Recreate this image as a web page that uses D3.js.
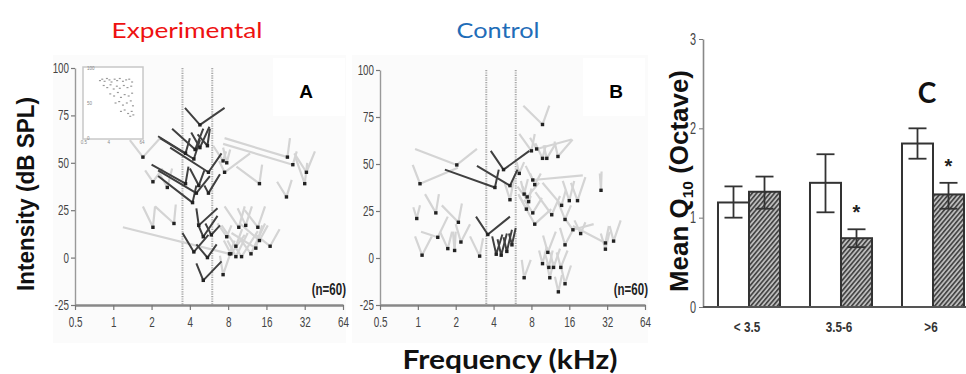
<!DOCTYPE html>
<html>
<head>
<meta charset="utf-8">
<script src="https://cdn.jsdelivr.net/npm/d3@7"></script>
<style>
  body { margin: 0; background: #fff; }
  svg { display: block; }
</style>
</head>
<body>
<svg id="fig" width="966" height="374"></svg>
<script>
// ---- data ----
const freqTicks = [0.5, 1, 2, 4, 8, 16, 32, 64];
const dbTicks = [-25, 0, 25, 50, 75, 100];
const bandEdges = [3.5, 6];

// tuning curves: [CF kHz, threshold dB, low-side kHz, low-side dB, high-side kHz, high-side dB, dark]
const curvesA = [
  [4.8, 70, 3.66, 79, 7.5, 79, 1],
  [4.4, 57, 2.9, 68, 5.1, 68, 1],
  [4.8, 58, 4.1, 66, 5.7, 69, 1],
  [3.7, 55, 2.25, 64, 4.0, 63, 1],
  [4.3, 52, 2.33, 63, 4.8, 62, 1],
  [5.5, 59, 4.6, 65, 5.75, 68, 1],
  [5.6, 45, 2.8, 58, 7.1, 55, 1],
  [3.7, 39, 2.0, 49, 3.9, 48, 1],
  [4.7, 38, 4.0, 47, 5.2, 46, 1],
  [4.5, 34, 2.25, 46, 5.75, 43, 1],
  [5.6, 34, 5.2, 38, 6.9, 44, 1],
  [4.2, 29, 2.25, 43, 4.5, 38, 1],
  [4.7, 17, 4.5, 26, 6.6, 26, 1],
  [5.1, 11, 4.6, 18, 6.6, 22, 1],
  [5.9, 12, 5.3, 18, 6.9, 17, 1],
  [4.3, 3, 3.5, 13, 5.6, 12, 1],
  [5.5, 0, 4.5, 7, 6.5, 7, 1],
  [5.1, -12, 4.5, -3, 7.1, -2, 1],
  [1.71, 53, 1.35, 62, 2.33, 63, 0],
  [2.05, 40, 1.78, 46, 2.45, 47, 0],
  [2.66, 37, 2.33, 44, 2.9, 47, 0],
  [2.05, 16, 1.71, 27, 2.13, 27, 0],
  [3.0, 18, 2.13, 27, 3.1, 28, 0],
  [8.2, 2, 1.19, 16, 9.0, 9, 0],
  [7.3, 51, 6.1, 59, 7.7, 56, 0],
  [7.8, 50, 7.3, 58, 8.3, 57, 0],
  [7.5, 45, 6.8, 51, 11.9, 55, 0],
  [14.1, 39, 9.3, 48, 14.8, 49, 0],
  [23.4, 53, 7.5, 63, 24.5, 63, 0],
  [25.8, 49, 7.3, 60, 27.7, 56, 0],
  [33, 45, 26.5, 55, 38.5, 56, 0],
  [32, 39, 27, 53, 33.5, 50, 0],
  [23, 32, 19.4, 40, 25.3, 41, 0],
  [9.7, 16, 7.5, 27, 10.8, 27, 0],
  [11.0, 17, 9.5, 26, 12.3, 27, 0],
  [13.7, 16, 10.8, 25, 15.6, 27, 0],
  [14.1, 9, 9.9, 18, 16.4, 17, 0],
  [13.2, 5, 8.5, 13, 14.8, 17, 0],
  [17.1, 6, 13.2, 12, 20.3, 15, 0],
  [9.2, 6, 7.1, 17, 10.3, 15, 0],
  [7.8, 11, 6.6, 18, 8.5, 17, 0],
  [8.4, 2, 7.4, 9, 10.8, 12, 0],
  [9.2, 0.5, 7.9, 9, 11.4, 13, 0],
  [10.2, 0.5, 9.0, 6, 13.7, 14, 0],
  [12.1, 2, 9.9, 10, 15.6, 18, 0],
  [7.3, -9, 6.9, 1, 8.5, 4, 0]
];

const curvesB = [
  [2.04, 49.5, 0.95, 58, 2.95, 58, 0],
  [1.04, 39.5, 0.91, 49.5, 2.08, 48, 0],
  [0.98, 21, 0.92, 27, 1.04, 28, 0],
  [1.39, 24, 1.14, 34, 1.47, 34, 0],
  [1.44, 11, 1.06, 14, 1.73, 22, 0],
  [1.08, 1.5, 0.95, 11.5, 1.29, 11.5, 0],
  [1.73, 5, 1.5, 14, 1.87, 14, 0],
  [1.96, 4, 1.9, 14, 2.0, 14, 0],
  [2.1, 19, 1.55, 28, 2.24, 29, 0],
  [2.2, 8.5, 2.0, 18, 2.6, 18, 0],
  [3.1, 1, 2.6, 11.5, 3.3, 10.5, 0],
  [8.0, 57, 6.4, 66, 8.5, 66, 0],
  [8.8, 58, 7.8, 64, 16.7, 63, 0],
  [9.8, 71, 6.9, 81, 11.1, 81, 0],
  [9.8, 53, 8.6, 61, 10.4, 60, 0],
  [10.6, 53, 10.0, 60, 12.5, 61, 0],
  [13.0, 54, 12.2, 62, 17.0, 63, 0],
  [6.4, 45, 6.1, 51, 7.0, 51, 0],
  [8.2, 41.5, 7.2, 49, 20.5, 44, 0],
  [8.5, 39, 7.8, 45, 9.5, 45, 0],
  [7.0, 34, 6.6, 41, 7.5, 42, 0],
  [7.4, 32.5, 6.8, 38, 9.2, 40, 0],
  [7.6, 30, 6.2, 38, 8.0, 37, 0],
  [7.3, 26, 6.3, 34, 7.9, 33, 0],
  [8.2, 24, 7.0, 31, 9.7, 32, 0],
  [8.5, 18, 6.4, 33, 11.5, 26, 0],
  [11.6, 23, 8.6, 35, 13.5, 33, 0],
  [13.9, 28, 9.8, 40, 15.0, 36, 0],
  [16.0, 30.5, 14.2, 41, 17.5, 41, 0],
  [18.6, 30.5, 16.5, 40, 21.5, 43, 0],
  [14.8, 20.5, 13.0, 30, 16.5, 28, 0],
  [17.1, 15, 14.8, 21, 25, 18, 0],
  [19.7, 13, 17.6, 20, 21.5, 19, 0],
  [31, 8, 17.1, 17, 33, 17, 0],
  [31, 4.7, 28.5, 13, 33.5, 14, 0],
  [36, 9, 33.5, 17, 41, 20, 0],
  [28.6, 36, 28.0, 45, 28.9, 46, 0],
  [14.8, 7, 13.5, 16, 16.8, 14, 0],
  [10.8, 3, 9.9, 12, 12.5, 14, 0],
  [9.8, -3, 9.2, 4, 10.6, 6, 0],
  [11.0, -5, 10.2, 3, 11.8, 4, 0],
  [12.0, -5, 11.3, 3, 13.5, 5, 0],
  [13.7, -5, 12.7, 3, 15.5, 4, 0],
  [11.2, -10.5, 10.6, -3, 12.0, -2, 0],
  [14.8, -13.7, 13.8, -5, 16.5, -4, 0],
  [13.1, -18, 12.3, -10, 14.0, -9, 0],
  [7.0, -10.5, 6.7, -1, 7.9, -1, 0],
  [5.4, 31, 4.9, 40, 5.9, 44, 0],
  [3.6, 12.5, 2.9, 22, 5.4, 22, 1],
  [4.2, 2, 3.9, 11.5, 4.7, 12.5, 1],
  [4.6, 1.5, 4.3, 10, 5.1, 13, 1],
  [5.1, 3.5, 4.8, 11, 5.6, 15, 1],
  [5.6, 7, 5.3, 13, 6.0, 16, 1],
  [4.8, 47, 3.8, 57, 7.7, 57, 1],
  [5.4, 38.5, 2.95, 49, 6.2, 47, 1],
  [4.1, 37.5, 1.64, 47, 4.4, 47, 1]
];

// inset of panel A: [kHz, dB]
const insetPts = [
  [1.9, 82], [2.3, 84], [2.8, 81], [3.4, 85], [4.2, 83], [5, 80], [6.5, 84], [8, 82], [10, 85], [13, 81],
  [17, 83], [22, 84], [28, 80], [2.6, 75], [3.5, 72], [4.6, 76], [6, 70], [7.8, 74], [10, 71], [14, 75],
  [19, 72], [26, 74], [4.5, 63], [6.2, 60], [8.5, 65], [11, 58], [15, 62], [21, 60], [28, 64], [7, 50],
  [9.5, 52], [13, 47], [18, 50], [25, 53], [30, 46], [11, 38], [15, 40], [20, 35], [27, 38], [31, 33], [24, 31]
];
const insetYTicks = [0, 50, 100];
const insetXTicks = [0.5, 4, 64];

// panel C
const groups = ["< 3.5", "3.5-6", ">6"];
const q10Open = [1.17, 1.39, 1.83];
const q10OpenLo = [1.0, 1.06, 1.66];
const q10OpenHi = [1.35, 1.71, 2.0];
const q10Hatch = [1.29, 0.77, 1.26];
const q10HatchLo = [1.1, 0.67, 1.1];
const q10HatchHi = [1.46, 0.87, 1.39];
const signif = [false, true, true];
const q10Ticks = [0, 1, 2, 3];

// ---- drawing ----
const svg = d3.select("#fig");
const narrow = '"Liberation Sans",Arial,sans-serif';
const arial = '"Liberation Sans",Arial,sans-serif';
const calibri = 'Lato,"Open Sans",sans-serif';

// squeeze axis labels to look like a condensed face
function condense(sel, k) {
  sel.each(function () {
    const t = d3.select(this);
    const x = +t.attr("x") || 0;
    t.attr("x", x / k).attr("transform", `scale(${k},1)`);
  });
}

svg.append("rect").attr("width", 966).attr("height", 374).attr("fill", "#fff");

const defs = svg.append("defs");
const pat = defs.append("pattern").attr("id", "hatch")
  .attr("patternUnits", "userSpaceOnUse").attr("width", 3.4).attr("height", 3.4)
  .attr("patternTransform", "rotate(40)");
pat.append("rect").attr("width", 3.4).attr("height", 3.4).attr("fill", "#bcbcbc");
pat.append("line").attr("x1", 0.8).attr("y1", 0).attr("x2", 0.8).attr("y2", 3.4)
  .attr("stroke", "#2e2e2e").attr("stroke-width", 1.4);

function tuningPanel(curves, xr, yr, bg, box) {
  const x = d3.scaleLog().base(2).domain([0.5, 64]).range(xr);
  const y = d3.scaleLinear().domain([-25, 100]).range(yr);
  const g = svg.append("g");

  g.append("rect").attr("x", bg[0]).attr("y", bg[1]).attr("width", bg[2]).attr("height", bg[3]).attr("fill", "#fbfbfb");
  g.append("rect").attr("x", box[0]).attr("y", box[1]).attr("width", box[2]).attr("height", box[3]).attr("fill", "#fff");

  // band limits
  g.selectAll("line.band").data(bandEdges).join("line")
    .attr("x1", d => x(d)).attr("x2", d => x(d))
    .attr("y1", y(100)).attr("y2", y(-25))
    .attr("stroke", "#a8a8a8").attr("stroke-width", 2).attr("stroke-dasharray", "1.2,1.2");

  const light = curves.filter(c => !c[6]);
  const dark = curves.filter(c => c[6]);
  const line = c => `M${x(c[2])},${y(c[3])}L${x(c[0])},${y(c[1])}L${x(c[4])},${y(c[5])}`;

  g.selectAll("path.light").data(light).join("path")
    .attr("d", line).attr("fill", "none")
    .attr("stroke", "#d4d4d4").attr("stroke-width", 2.2).attr("stroke-linejoin", "round");
  g.selectAll("path.dark").data(dark).join("path")
    .attr("d", line).attr("fill", "none")
    .attr("stroke", "#404040").attr("stroke-width", 2).attr("stroke-linejoin", "round");
  g.selectAll("rect.tip").data(curves).join("rect")
    .attr("x", c => x(c[0]) - 1.7).attr("y", c => y(c[1]) - 1.7)
    .attr("width", 3.4).attr("height", 3.4).attr("fill", "#222");

  // axes
  const ya = g.append("g").attr("transform", `translate(${xr[0]},0)`)
    .call(d3.axisLeft(y).tickValues(dbTicks).tickSize(4).tickSizeOuter(0).tickPadding(2).tickFormat(d => String(d)));
  ya.select(".domain").attr("stroke", "#999").attr("stroke-width", 1.4);
  ya.selectAll(".tick line").attr("stroke", "#777").attr("stroke-width", 1.2);
  ya.selectAll(".tick text").attr("font-family", narrow).attr("font-size", 14).attr("fill", "#444")
    .call(condense, 0.7);

  const xa = g.append("g").attr("transform", `translate(0,${yr[0]})`)
    .call(d3.axisBottom(x).tickValues(freqTicks).tickSize(5).tickSizeOuter(0).tickPadding(6).tickFormat(d => String(d)));
  xa.select(".domain").attr("stroke", "#888").attr("stroke-width", 2.6);
  xa.selectAll(".tick line").attr("stroke", "#777").attr("stroke-width", 1.2);
  xa.selectAll(".tick text").attr("font-family", narrow).attr("font-size", 15).attr("fill", "#444")
    .call(condense, 0.66);

  g.append("text").attr("x", (xr[1] + 3) / 0.72).attr("y", 295).attr("text-anchor", "end")
    .attr("transform", "scale(0.72,1)")
    .attr("font-family", arial).attr("font-weight", "bold").attr("font-size", 16).attr("fill", "#222")
    .text("(n=60)");
  return { g, x, y };
}

const A = tuningPanel(curvesA, [75, 343], [305, 68], [53, 55, 293, 288], [273, 58, 72, 58]);
const B = tuningPanel(curvesB, [380, 645], [305, 70], [352, 55, 296, 288], [583, 58, 62, 58]);

// panel letters
A.g.append("text").attr("x", 306).attr("y", 98).attr("text-anchor", "middle")
  .attr("font-family", arial).attr("font-weight", 900).attr("font-size", 19).text("A");
B.g.append("text").attr("x", 616).attr("y", 98).attr("text-anchor", "middle")
  .attr("font-family", arial).attr("font-weight", 900).attr("font-size", 19).text("B");

// inset in panel A
const ix = d3.scaleLog().base(2).domain([0.5, 64]).range([84, 142]);
const iy = d3.scaleLinear().domain([0, 100]).range([138, 68]);
const ig = svg.append("g");
ig.append("rect").attr("x", 83).attr("y", 67).attr("width", 60).attr("height", 72)
  .attr("fill", "#fff").attr("stroke", "#c8c8c8").attr("stroke-width", 1.5);
ig.selectAll("rect.pt").data(insetPts).join("rect")
  .attr("x", d => ix(d[0]) - 1).attr("y", d => iy(d[1]) - 0.6)
  .attr("width", 2).attr("height", 1.2).attr("fill", "#999");
ig.selectAll("text.iy").data(insetYTicks).join("text")
  .attr("x", 87).attr("y", d => iy(d) + 1.5).attr("font-family", narrow).attr("font-size", 4.5)
  .attr("fill", "#888").text(d => d);
ig.selectAll("text.ix").data(insetXTicks).join("text")
  .attr("x", d => ix(d)).attr("y", 144).attr("text-anchor", "middle").attr("font-family", narrow)
  .attr("font-size", 4.5).attr("fill", "#888").text(d => d);

// titles and shared labels
svg.append("text").attr("x", 187).attr("y", 38).attr("text-anchor", "middle")
  .attr("font-family", calibri).attr("font-size", 22).attr("fill", "#ee1111")
  .attr("textLength", 151).attr("lengthAdjust", "spacingAndGlyphs").text("Experimental");
svg.append("text").attr("x", 498).attr("y", 38).attr("text-anchor", "middle")
  .attr("font-family", calibri).attr("font-size", 22).attr("fill", "#1f6db8")
  .attr("textLength", 83).attr("lengthAdjust", "spacingAndGlyphs").text("Control");

svg.append("text").attr("transform", "translate(34,194) rotate(-90)").attr("text-anchor", "middle")
  .attr("font-family", arial).attr("font-weight", "bold").attr("font-size", 23).attr("fill", "#111")
  .attr("textLength", 194).attr("lengthAdjust", "spacingAndGlyphs").text("Intensity (dB SPL)");

svg.append("text").attr("x", 510).attr("y", 369).attr("text-anchor", "middle")
  .attr("font-family", calibri).attr("font-weight", "bold").attr("font-size", 26).attr("fill", "#111")
  .attr("textLength", 215).attr("lengthAdjust", "spacingAndGlyphs").text("Frequency (kHz)");

// ---- panel C ----
const yC = d3.scaleLinear().domain([0, 3]).range([307, 39]);
const xC = d3.scaleBand().domain(groups).range([703, 979]).paddingInner(0.326).paddingOuter(0.163);
const xSub = d3.scaleBand().domain(["open", "hatch"]).range([0, xC.bandwidth()]);
const gC = svg.append("g");

const barsData = groups.map((k, i) => ({
  k, i,
  vals: [
    { s: "open", v: q10Open[i], lo: q10OpenLo[i], hi: q10OpenHi[i] },
    { s: "hatch", v: q10Hatch[i], lo: q10HatchLo[i], hi: q10HatchHi[i] }
  ]
}));

const grp = gC.selectAll("g.grp").data(barsData).join("g")
  .attr("transform", d => `translate(${xC(d.k)},0)`);
grp.selectAll("rect").data(d => d.vals).join("rect")
  .attr("x", d => xSub(d.s)).attr("width", xSub.bandwidth())
  .attr("y", d => yC(d.v)).attr("height", d => yC(0) - yC(d.v))
  .attr("fill", d => d.s === "open" ? "#fff" : "url(#hatch)")
  .attr("stroke", "#333").attr("stroke-width", 2);
const eb = grp.selectAll("g.eb").data(d => d.vals).join("g")
  .attr("transform", d => `translate(${xSub(d.s) + xSub.bandwidth() / 2},0)`);
eb.append("line").attr("y1", d => yC(d.lo)).attr("y2", d => yC(d.hi))
  .attr("stroke", "#333").attr("stroke-width", 1.8);
eb.append("line").attr("x1", -9).attr("x2", 9).attr("y1", d => yC(d.hi)).attr("y2", d => yC(d.hi))
  .attr("stroke", "#333").attr("stroke-width", 1.8);
eb.append("line").attr("x1", -9).attr("x2", 9).attr("y1", d => yC(d.lo)).attr("y2", d => yC(d.lo))
  .attr("stroke", "#333").attr("stroke-width", 1.8);

grp.filter(d => signif[d.i]).append("text")
  .attr("x", xSub("hatch") + xSub.bandwidth() / 2)
  .attr("y", d => yC(d.vals[1].hi) - 10)
  .attr("text-anchor", "middle").attr("font-family", arial).attr("font-weight", "bold")
  .attr("font-size", 20).attr("fill", "#222").text("*");

const yaC = gC.append("g").attr("transform", "translate(703,0)")
  .call(d3.axisLeft(yC).tickValues(q10Ticks).tickSize(4).tickSizeOuter(0).tickPadding(3).tickFormat(d => String(d)));
yaC.select(".domain").attr("stroke", "#888").attr("stroke-width", 1.6);
yaC.selectAll(".tick line").attr("stroke", "#777");
yaC.selectAll(".tick text").attr("font-family", narrow).attr("font-size", 16).attr("fill", "#444")
  .call(condense, 0.68);

gC.append("line").attr("x1", 703).attr("x2", 966).attr("y1", yC(0)).attr("y2", yC(0))
  .attr("stroke", "#555").attr("stroke-width", 2.2);
gC.selectAll("text.cat").data(groups).join("text")
  .attr("x", d => xC(d) + xC.bandwidth() / 2 - 2).attr("y", 332).attr("text-anchor", "middle")
  .attr("font-family", narrow).attr("font-weight", "bold").attr("font-size", 15).attr("fill", "#333")
  .text(d => d)
  .call(condense, 0.78);

gC.append("text").attr("x", 927).attr("y", 103).attr("text-anchor", "middle")
  .attr("font-family", calibri).attr("font-weight", "bold").attr("font-size", 28).attr("fill", "#111").text("C");

const yl = gC.append("text").attr("transform", "translate(688,181) rotate(-90)").attr("text-anchor", "middle")
  .attr("font-family", arial).attr("font-weight", "bold").attr("font-size", 25).attr("fill", "#111")
  .attr("textLength", 222).attr("lengthAdjust", "spacingAndGlyphs");
yl.append("tspan").text("Mean Q");
yl.append("tspan").attr("font-size", 15).attr("dy", 5).text("10");
yl.append("tspan").attr("dy", -5).text(" (Octave)");
</script>
</body>
</html>
